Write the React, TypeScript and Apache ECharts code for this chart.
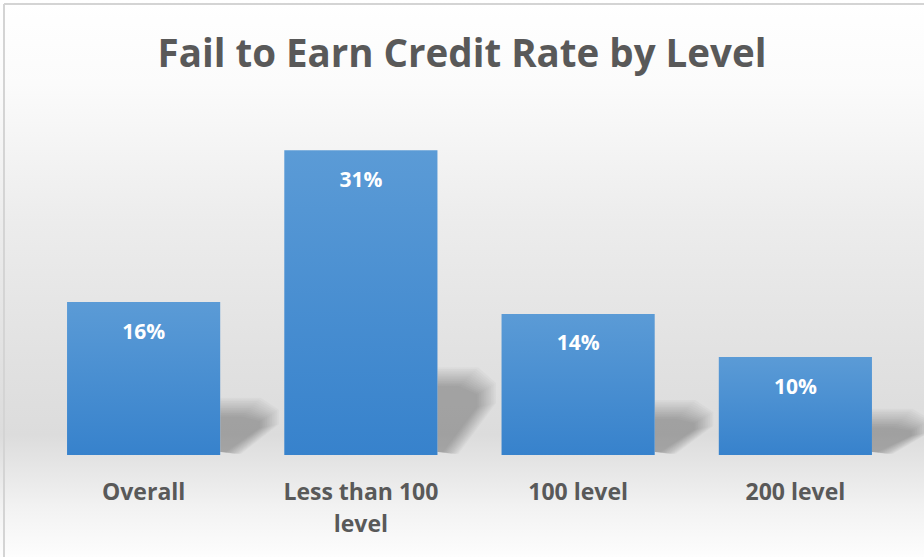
import React, { useEffect, useRef } from "react";
import * as echarts from "echarts";

const TITLE = "Fail to Earn Credit Rate by Level";
const categories = ["Overall", "Less than 100\nlevel", "100 level", "200 level"];
const rates = [15.6, 31.1, 14.4, 10.0];

const BAR_RATIO = 0.705;
const TEXT_COLOR = "#595959";
const FONT = "'Open Sans', 'Noto Sans', sans-serif";

export default function App() {
  const ref = useRef<HTMLDivElement>(null);

  useEffect(() => {
    if (!ref.current) return;
    const chart = echarts.init(ref.current, undefined, { renderer: "svg" });

    const option: any = {
      animation: false,
      backgroundColor: new echarts.graphic.LinearGradient(0, 0, 0, 1, [
        { offset: 0, color: "#ffffff" },
        { offset: 0.15, color: "#fbfbfb" },
        { offset: 0.4, color: "#ececec" },
        { offset: 0.65, color: "#e1e1e1" },
        { offset: 0.78, color: "#dcdcdc" },
        { offset: 0.84, color: "#e6e6e6" },
        { offset: 0.91, color: "#f2f2f2" },
        { offset: 1, color: "#fdfdfd" },
      ]),
      title: {
        text: TITLE,
        left: "center",
        top: 27,
        textStyle: {
          fontFamily: FONT,
          fontWeight: "bold",
          fontSize: 38.5,
          color: TEXT_COLOR,
        },
      },
      graphic: [
        {
          type: "line",
          shape: { x1: 4, y1: 4, x2: 924, y2: 4 },
          style: { stroke: "#d4d4d4", lineWidth: 2 },
          silent: true,
        },
        {
          type: "line",
          shape: { x1: 4, y1: 4, x2: 4, y2: 557 },
          style: { stroke: "#d4d4d4", lineWidth: 2 },
          silent: true,
        },
      ],
      grid: { left: 35, right: 20, top: 112, bottom: 102 },
      xAxis: {
        type: "category",
        data: categories,
        axisLine: { show: false },
        axisTick: { show: false },
        axisLabel: {
          interval: 0,
          margin: 20,
          fontFamily: FONT,
          fontWeight: "bold",
          fontSize: 23,
          lineHeight: 32,
          color: TEXT_COLOR,
        },
      },
      yAxis: {
        type: "value",
        min: 0,
        max: 35,
        show: false,
        splitLine: { show: false },
      },
      series: [
        {
          type: "custom",
          z: 1,
          silent: true,
          data: rates.map((v, i) => [i, v]),
          renderItem: (params: any, api: any) => {
            const i = api.value(0);
            const v = api.value(1);
            const base = api.coord([i, 0]);
            const top = api.coord([i, v]);
            const band = api.size([1, 0])[0];
            const R = base[0] + (band * BAR_RATIO) / 2;
            const B = base[1];
            const h = B - top[1];
            const dy = h * 0.2 + 8;
            const dx = 40;
            const layers: any[] = [];
            for (let k = 0; k < 12; k++) {
              const e = k * 1.7;
              layers.push({
                type: "polygon",
                shape: {
                  points: [
                    [R, B - 3],
                    [R, B - dy - e],
                    [R + dx * 0.55 + e, B - dy - e],
                    [R + dx + e, B - dy * 0.88 - e * 0.6],
                    [R + dx + e, B - dy * 0.7 - e * 0.2],
                    [R + 6 + e * 0.8, B - 3 + Math.min(e * 0.2, 2)],
                  ],
                },
                style: { fill: "rgba(0,0,0,0.025)" },
              });
            }
            return { type: "group", children: layers };
          },
        },
        {
          type: "bar",
          z: 2,
          data: rates,
          barWidth: (BAR_RATIO * 100).toFixed(1) + "%",
          itemStyle: {
            color: new echarts.graphic.LinearGradient(0, 0, 0, 1, [
              { offset: 0, color: "#5b9bd6" },
              { offset: 1, color: "#3782cc" },
            ]),
          },
          label: {
            show: true,
            position: "insideTop",
            distance: 18,
            formatter: (p: any) => Math.round(p.value) + "%",
            fontFamily: FONT,
            fontWeight: "bold",
            fontSize: 21,
            color: "#ffffff",
          },
        },
      ],
    };

    chart.setOption(option);
    return () => chart.dispose();
  }, []);

  return (
    <div
      ref={ref}
      style={{ position: "fixed", left: 0, top: 0, width: 924, height: 557 }}
    />
  );
}
